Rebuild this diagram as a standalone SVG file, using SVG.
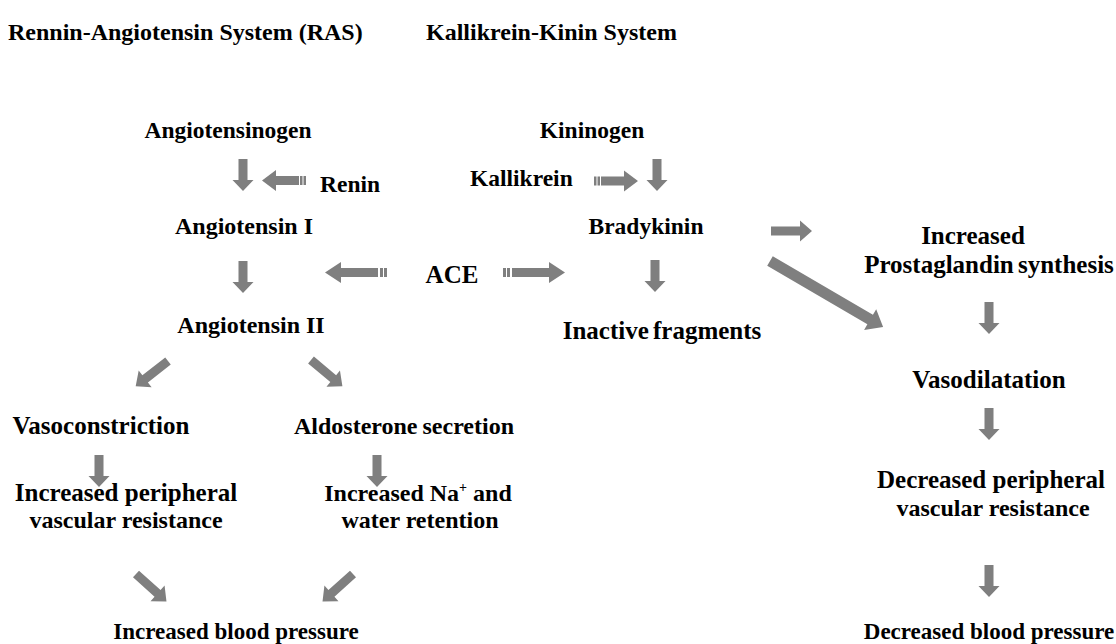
<svg xmlns="http://www.w3.org/2000/svg" xmlns:xlink="http://www.w3.org/1999/xlink" width="1116" height="644" viewBox="0 0 1116 644">
<style>
text{font-family:"Liberation Serif","Times New Roman",serif;font-weight:bold;fill:#000;font-size:25px}
.t{font-size:24px}
.s{font-size:23.5px}
.r{font-size:24px}
.m{text-anchor:middle}
.a{fill:#7f7f7f}
</style>
<defs>
<path id="dn" d="M-4.5,0H4.5V21H10.5L0,32L-10.5,21H-4.5Z"/>
<path id="rt" d="M0,-4.5H29V-10.5L41,0L29,10.5V4.5H0Z"/>
<g id="srt"><rect x="0" y="-4.5" width="3" height="9"/><rect x="4" y="-4.5" width="3" height="9"/><path d="M9,-4.5H46V-10.5L62,0L46,10.5V4.5H9Z"/></g>
<g id="srs"><rect x="0" y="-4.5" width="2.5" height="9"/><rect x="3.5" y="-4.5" width="2.5" height="9"/><path d="M7,-4.5H30V-10.5L44,0L30,10.5V4.5H7Z"/></g>
</defs>
<g id="titles">
<text class="t" x="8" y="40">Rennin-Angiotensin System  (RAS)</text>
<text class="t" x="426" y="40">Kallikrein-Kinin System</text>
</g>
<g id="angiotensinogen"><text class="m s" x="228" y="138">Angiotensinogen</text></g>
<g id="kininogen"><text class="m s" x="592" y="138">Kininogen</text></g>
<g id="renin"><text class="s" x="320" y="192">Renin</text></g>
<g id="kallikrein"><text class="s" x="470" y="186">Kallikrein</text></g>
<g id="angiotensin1"><text class="m r" x="244" y="234">Angiotensin I</text></g>
<g id="bradykinin"><text class="m s" x="646" y="234">Bradykinin</text></g>
<g id="ace"><text class="m" x="452" y="283">ACE</text></g>
<g id="prostaglandin"><text class="m" x="973" y="244">Increased</text><text class="m" x="989" y="273" style="word-spacing:-2px">Prostaglandin synthesis</text></g>
<g id="angiotensin2"><text class="m r" x="251" y="333">Angiotensin II</text></g>
<g id="inactive"><text class="m" x="662" y="339" style="word-spacing:-2px">Inactive fragments</text></g>
<g id="vasodilatation"><text class="m" x="989" y="388">Vasodilatation</text></g>
<g id="vasoconstriction"><text class="m" x="101" y="434">Vasoconstriction</text></g>
<g id="aldosterone"><text class="m r" x="404" y="434" style="word-spacing:-1px">Aldosterone secretion</text></g>
<g id="decreased-pvr"><text class="m" x="991" y="488">Decreased peripheral</text><text class="m r" x="993" y="516">vascular resistance</text></g>
<g id="increased-pvr"><text class="m" x="126" y="501">Increased peripheral</text><text class="m r" x="126" y="528">vascular resistance</text></g>
<g id="na-retention"><text class="m r" x="418" y="501">Increased Na<tspan style="font-size:14px" dy="-9">+</tspan><tspan dy="9"> and</tspan></text><text class="m r" x="420" y="528">water retention</text></g>
<g id="increased-bp"><text class="m" x="236" y="639" style="font-size:23px">Increased blood pressure</text></g>
<g id="decreased-bp"><text class="m" x="989" y="639" style="font-size:23px">Decreased blood pressure</text></g>
<g id="connectors" class="a">
<use xlink:href="#dn" x="243" y="159"/>
<use xlink:href="#dn" x="657" y="159"/>
<use xlink:href="#dn" x="243" y="261"/>
<use xlink:href="#dn" x="655" y="260"/>
<use xlink:href="#dn" x="989" y="302"/>
<use xlink:href="#dn" x="989" y="408"/>
<use xlink:href="#dn" x="989" y="565"/>
<use xlink:href="#dn" x="99" y="455"/>
<use xlink:href="#dn" x="377" y="455"/>
<use xlink:href="#srs" transform="translate(306,180.5) scale(-1,1)"/>
<use xlink:href="#srs" transform="translate(594,181)"/>
<use xlink:href="#srt" transform="translate(387,272.5) scale(-1,1)"/>
<use xlink:href="#srt" transform="translate(503,272.5)"/>
<use xlink:href="#rt" transform="translate(771,231)"/>
<use xlink:href="#rt" transform="translate(168,361) rotate(142)"/>
<use xlink:href="#rt" transform="translate(311,360) rotate(40)"/>
<use xlink:href="#rt" transform="translate(136,574) rotate(42)"/>
<use xlink:href="#rt" transform="translate(353,574) rotate(138)"/>
<path transform="translate(770,261) rotate(30.3)" d="M0,-5.5H116V-12L131,0L116,12V5.5H0Z"/>
</g>
</svg>
